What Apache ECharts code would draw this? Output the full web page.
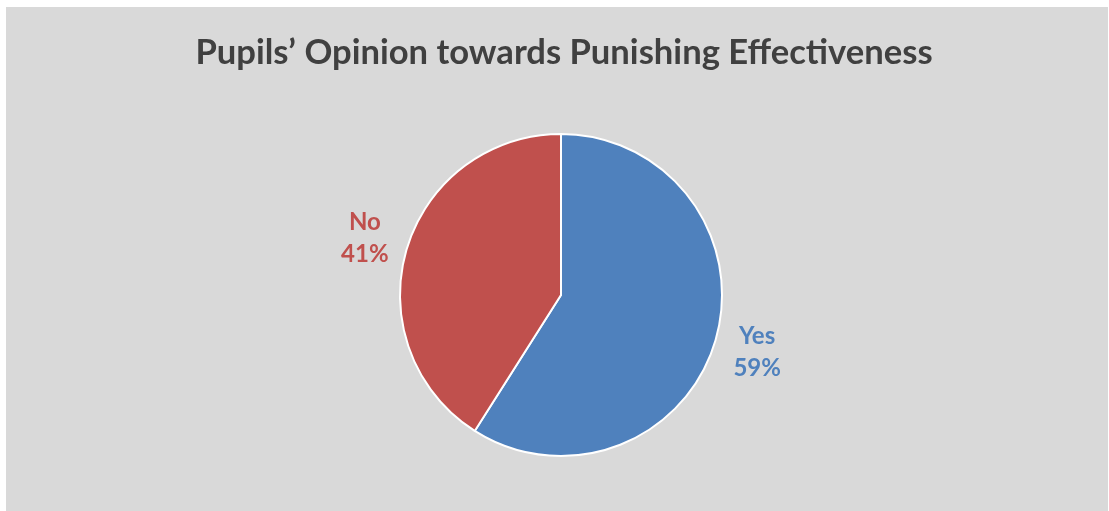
<!DOCTYPE html>
<html>
<head>
<meta charset="utf-8">
<title>Pupils’ Opinion towards Punishing Effectiveness</title>
<script src="https://cdn.jsdelivr.net/npm/echarts@6/dist/echarts.min.js"></script>
<style>
  html, body { margin: 0; padding: 0; background: #ffffff; }
  #chart { position: absolute; left: 6px; top: 7px; width: 1102px; height: 504px; background: #d9d9d9; }
</style>
</head>
<body>
<div id="chart"></div>
<script>
// Survey answers and their shares (percent)
const titleText = 'Pupils’ Opinion towards Punishing Effectiveness';
const answers = ['Yes', 'No'];
const shares = [59, 41];
const sliceColors = ['#4f81bd', '#c0504d'];

const chart = echarts.init(document.getElementById('chart'), null, { renderer: 'canvas' });

const labelFont = 'Lato, "Open Sans", sans-serif';

// Each answer gets a centred two-line label: name over percentage
function labelFor(i) {
  const pad = i === 0 ? [18, 0, 0, 0] : [0, 0, 16, 0];
  return {
    color: sliceColors[i],
    padding: pad,
    rich: {
      t: {
        width: 50,
        align: 'center',
        fontFamily: labelFont,
        fontWeight: 'bold',
        fontSize: 24,
        lineHeight: 32,
        color: sliceColors[i]
      }
    }
  };
}

const pieData = answers.map((name, i) => ({
  name: name,
  value: shares[i],
  itemStyle: { color: sliceColors[i] },
  label: labelFor(i)
}));

chart.setOption({
  backgroundColor: 'transparent',
  animation: false,
  title: {
    text: titleText,
    left: 553,
    textAlign: 'center',
    top: 23,
    textStyle: {
      fontFamily: labelFont,
      fontWeight: 'bold',
      fontSize: 34.6,
      color: '#404040'
    }
  },
  series: [{
    type: 'pie',
    center: [555, 288],
    radius: 161,
    startAngle: 90,
    clockwise: true,
    avoidLabelOverlap: false,
    itemStyle: { borderColor: '#ffffff', borderWidth: 2 },
    label: {
      show: true,
      position: 'outside',
      formatter: '{t|{b}}\n{t|{d}%}'
    },
    labelLine: { show: false, length: 12, length2: 0 },
    emphasis: { disabled: true },
    data: pieData
  }]
});
</script>
</body>
</html>
